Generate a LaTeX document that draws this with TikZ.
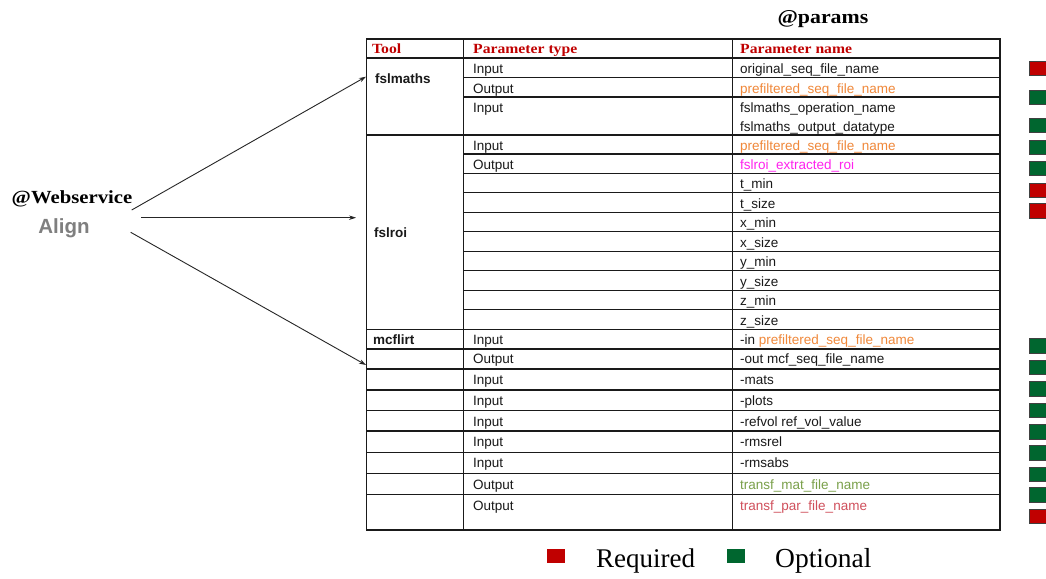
\documentclass[tikz,border=0pt]{standalone}
\usepackage{fontspec}
\setmainfont{Liberation Sans}
\newfontfamily\headserif[FakeStretch=1.12]{Liberation Serif}
\newfontfamily\legendserif{Liberation Serif}
\usetikzlibrary{arrows.meta}
\definecolor{hdred}{HTML}{C00000}
\definecolor{reqred}{HTML}{C00000}
\definecolor{optgreen}{HTML}{00662F}
\definecolor{seqorange}{HTML}{F0883A}
\definecolor{roimagenta}{HTML}{FF22EE}
\definecolor{matgreen}{HTML}{7AA04A}
\definecolor{parred}{HTML}{D0505C}
\definecolor{aligngray}{HTML}{7F7F7F}
\definecolor{rule}{HTML}{1A1A1A}

\tikzset{
  cell/.style={anchor=base west, inner sep=0pt, font=\fontsize{13.5}{16}\selectfont, text=black!90},
  toolname/.style={cell, font=\fontsize{13.5}{16}\selectfont\bfseries},
  colhead/.style={anchor=base west, inner sep=0pt, text=hdred, font=\headserif\fontsize{14}{16}\selectfont\bfseries},
  grid/.style={draw=rule, line width=1.3pt},
  conn/.style={draw=black!85, line width=0.9pt, -{Stealth[length=7pt,width=4.5pt]}},
  flag/.style={draw=black!75, line width=0.8pt},
  legendbox/.style={inner sep=0pt, minimum width=18.6pt, minimum height=14pt}
}

\begin{document}
\begin{tikzpicture}[x=1pt,y=-1pt]
\useasboundingbox (0,0) rectangle (1046,578);
\fill[white] (0,0) rectangle (1046,578);

% titles
\node[anchor=base, inner sep=0pt, font=\headserif\fontsize{19.5}{22}\selectfont\bfseries] (params) at (823,24) {@params};
\node[anchor=base, inner sep=0pt, font=\headserif\fontsize{18.5}{22}\selectfont\bfseries] (ws) at (72,203.3) {@Webservice};
\node[anchor=base, inner sep=0pt, text=aligngray, font=\fontsize{20.5}{24}\selectfont\bfseries] (align) at (64,233) {Align};

% table frame and column rules
\draw[grid] (366.5,39) rectangle (1000,530);
\draw[grid] (463.5,39) -- (463.5,530);
\draw[grid] (732.5,39) -- (732.5,530);
% rules across all three columns
\foreach \y in {58,135,329.3,349,369,390,410.7,431,452.3,473.3,494.3}
  \draw[grid] (366.5,\y) -- (1000,\y);
% rules inside the fslmaths and fslroi groups
\foreach \y in {77.5,97,154,173.3,192.7,212.3,231.7,251.3,270.8,290.3,309.8}
  \draw[grid] (463.5,\y) -- (1000,\y);

% column headings
\node[colhead] (hTool) at (372,54) {Tool};
\node[colhead] (hType) at (473,54) {Parameter type};
\node[colhead] (hName) at (740,54) {Parameter name};

% tool names
\node[toolname] (fslmaths) at (375,83) {fslmaths};
\node[toolname] (fslroi) at (374,237.3) {fslroi};
\node[toolname] (mcflirt) at (373,344) {mcflirt};

% fslmaths parameters
\node[cell] (p1t) at (473,74) {Input};
\node[cell] (p1n) at (740,74) {original\_seq\_file\_name};
\node[cell] (p2t) at (473,93.3) {Output};
\node[cell, text=seqorange] (p2n) at (740,93.3) {prefiltered\_seq\_file\_name};
\node[cell] (p3t) at (473,112.7) {Input};
\node[cell] (p3n) at (740,112.7) {fslmaths\_operation\_name};
\node[cell] (p4n) at (740,131.7) {fslmaths\_output\_datatype};

% fslroi parameters
\node[cell] (r1t) at (473,150.5) {Input};
\node[cell, text=seqorange] (r1n) at (740,150.5) {prefiltered\_seq\_file\_name};
\node[cell] (r2t) at (473,169.5) {Output};
\node[cell, text=roimagenta] (r2n) at (740,169.5) {fslroi\_extracted\_roi};
\node[cell] (r3n) at (740,188.8) {t\_min};
\node[cell] (r4n) at (740,208.2) {t\_size};
\node[cell] (r5n) at (740,227.8) {x\_min};
\node[cell] (r6n) at (740,247.2) {x\_size};
\node[cell] (r7n) at (740,266.8) {y\_min};
\node[cell] (r8n) at (740,286.3) {y\_size};
\node[cell] (r9n) at (740,305.8) {z\_min};
\node[cell] (r10n) at (740,325.3) {z\_size};

% mcflirt parameters
\node[cell] (m1t) at (473,344) {Input};
\node[cell] (m1n) at (740,344) {-in \textcolor{seqorange}{prefiltered\_seq\_file\_name}};
\node[cell] (m2t) at (473,363.8) {Output};
\node[cell] (m2n) at (740,363.8) {-out mcf\_seq\_file\_name};
\node[cell] (m3t) at (473,384.3) {Input};
\node[cell] (m3n) at (740,384.3) {-mats};
\node[cell] (m4t) at (473,405.3) {Input};
\node[cell] (m4n) at (740,405.3) {-plots};
\node[cell] (m5t) at (473,426) {Input};
\node[cell] (m5n) at (740,426) {-refvol ref\_vol\_value};
\node[cell] (m6t) at (473,446.8) {Input};
\node[cell] (m6n) at (740,446.8) {-rmsrel};
\node[cell] (m7t) at (473,467.8) {Input};
\node[cell] (m7n) at (740,467.8) {-rmsabs};
\node[cell] (m8t) at (473,489) {Output};
\node[cell, text=matgreen] (m8n) at (740,489) {transf\_mat\_file\_name};
\node[cell] (m9t) at (473,510) {Output};
\node[cell, text=parred] (m9n) at (740,510) {transf\_par\_file\_name};

% connectors from the service to the tools
\coordinate (s1) at (131.7,210);
\coordinate (s2) at (141,217.7);
\coordinate (s3) at (130.7,232.3);
\coordinate (e1) at (366,76.7);
\coordinate (e2) at (356,217.7);
\coordinate (e3) at (366,365);
\draw[conn] (s1) -- (e1);
\draw[conn] (s2) -- (e2);
\draw[conn] (s3) -- (e3);

% required / optional flags
\foreach \ya/\yb/\c in {61.7/75.7/reqred, 90/104.3/optgreen, 118.3/132.7/optgreen,
    140/154/optgreen, 161.7/175.7/optgreen, 183.3/197.3/reqred, 203.3/218.3/reqred,
    338.3/353.3/optgreen, 360/374.3/optgreen, 381.7/396/optgreen, 403.3/417.7/optgreen,
    424.3/439/optgreen, 445.7/460/optgreen, 467/481/optgreen, 487.7/502.3/optgreen,
    509/523.3/reqred}
  \path[flag, fill=\c] (1029.5,\ya) rectangle (1050,\yb);

% legend
\node[legendbox, fill=reqred] (lreq) at (556,556.3) {};
\node[anchor=base west, inner sep=0pt, font=\legendserif\fontsize{27}{30}\selectfont] (treq) at (596,567.7) {Required};
\node[legendbox, fill=optgreen] (lopt) at (735.8,556.3) {};
\node[anchor=base west, inner sep=0pt, font=\legendserif\fontsize{27.5}{30}\selectfont] (topt) at (775,567.7) {Optional};
\end{tikzpicture}
\end{document}
